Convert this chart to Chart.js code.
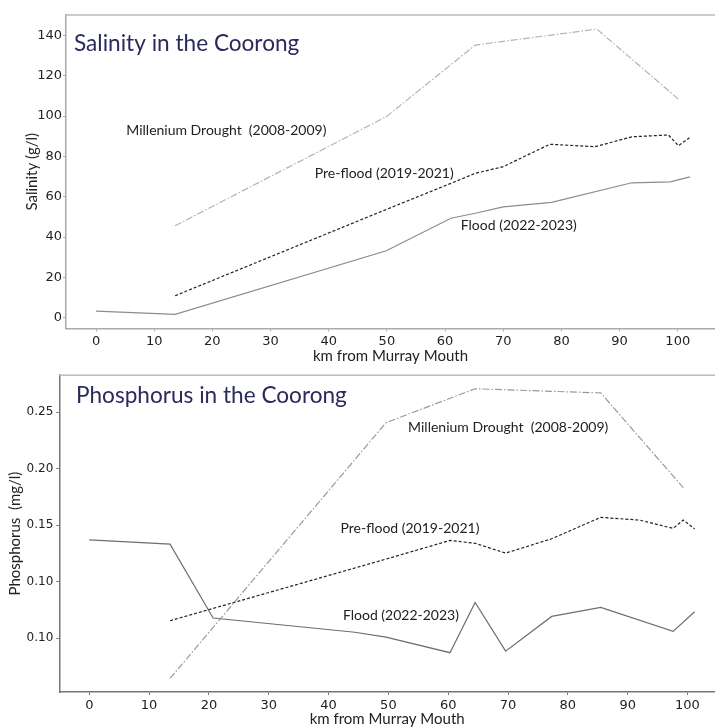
<!DOCTYPE html>
<html>
<head>
<meta charset="utf-8">
<script src="https://cdn.jsdelivr.net/npm/chart.js@4.4.1/dist/chart.umd.min.js"></script>
<style>
  body { margin: 0; background: #fff; }
  .box { position: absolute; left: 0; width: 715px; }
  #salBox { top: 0; height: 365px; }
  #phBox { top: 365px; height: 363px; }
</style>
</head>
<body>
<div class="box" id="salBox"><canvas id="salChart"></canvas></div>
<div class="box" id="phBox"><canvas id="phChart"></canvas></div>
<script>
    // Salinity (g/l) by km from Murray Mouth
    const salDroughtKm = [13.6, 49.9, 65.2, 86.1, 100.1];
    const salDrought = [45.6, 99.7, 135.2, 143.1, 108.4];
    const salPreKm = [13.6, 49.9, 61, 65.2, 70, 78, 85.8, 92.1, 98.4, 100.1, 102];
    const salPre = [10.9, 53.7, 66.6, 71.6, 74.9, 86.0, 84.8, 89.7, 90.6, 85.3, 89.2];
    const salFloodKm = [0, 13.6, 49.9, 61, 65.2, 70, 78.3, 92.1, 98.7, 102.1];
    const salFlood = [3.3, 1.7, 33.2, 49.3, 51.8, 55.0, 57.2, 66.9, 67.4, 69.8];

    // Phosphorus (mg/l) by km from Murray Mouth
    const phDroughtKm = [13.5, 49.6, 64.5, 85.5, 99.3];
    const phDrought = [0.0144, 0.2407, 0.2707, 0.267, 0.1832];
    const phPreKm = [13.5, 49.6, 60.3, 64.5, 69.6, 77.3, 85.5, 92, 97.6, 99.3, 101.2];
    const phPre = [0.0655, 0.12, 0.1365, 0.134, 0.1253, 0.138, 0.1569, 0.1545, 0.1472, 0.1546, 0.1467];
    const phFloodKm = [0, 13.5, 20.7, 44.4, 49.6, 60.3, 64.5, 69.6, 77.3, 85.5, 97.6, 101.2];
    const phFlood = [0.137, 0.1332, 0.0679, 0.0553, 0.0509, 0.0372, 0.0816, 0.0386, 0.0693, 0.0772, 0.0561, 0.0734];

    // tick labels of the phosphorus axis (as printed, the lowest one reads 0.10 too)
    const phTickValues = [0.05, 0.10, 0.15, 0.20, 0.25];
    const phTickLabels = ['0.10', '0.10', '0.15', '0.20', '0.25'];

    // series labels written next to the lines [text, km, value]
    const salNotes = [
        ['Millenium Drought  (2008-2009)', 5.2, 92.6],
        ['Pre-flood (2019-2021)', 37.6, 71.7],
        ['Flood (2022-2023)', 62.7, 45.5]
    ];
    const phNotes = [
        ['Millenium Drought  (2008-2009)', 53.3, 0.2363],
        ['Pre-flood (2019-2021)', 42.0, 0.147],
        ['Flood (2022-2023)', 42.4, 0.0699]
    ];

    const textFont = 'Lato, "Noto Sans", sans-serif';
    const tickFont = '"DejaVu Sans", sans-serif';

    function pts(xs, ys) {
        return xs.map((x, i) => ({ x: x, y: ys[i] }));
    }

    function line(data, color, dash) {
        return {
            data: data,
            borderColor: color,
            borderWidth: 1.2,
            borderDash: dash,
            pointRadius: 0,
            tension: 0,
            fill: false
        };
    }

    // frame top line, title and the text labels on the lines
    function decorPlugin(title, notes, titleX, titleY) {
        return {
            id: 'decor',
            afterDraw(chart) {
                const ctx = chart.ctx;
                const a = chart.chartArea;
                ctx.save();
                ctx.strokeStyle = '#bbb';
                ctx.lineWidth = 1.5;
                ctx.beginPath();
                ctx.moveTo(a.left, a.top);
                ctx.lineTo(a.right, a.top);
                ctx.stroke();

                ctx.fillStyle = '#2b2a5c';
                ctx.font = '22.6px ' + textFont;
                ctx.textBaseline = 'middle';
                ctx.fillText(title, titleX, titleY);

                ctx.fillStyle = '#222';
                ctx.font = '14px ' + textFont;
                notes.forEach(n => {
                    const x = chart.scales.x.getPixelForValue(n[1]);
                    const y = chart.scales.y.getPixelForValue(n[2]);
                    ctx.fillText(n[0], x, y);
                });
                ctx.restore();
            }
        };
    }

    function makeChart(id, opt) {
        return new Chart(document.getElementById(id).getContext('2d'), {
            type: 'line',
            data: { datasets: opt.datasets },
            options: {
                responsive: true,
                maintainAspectRatio: false,
                animation: false,
                layout: { padding: { top: opt.top, right: 0, left: 0, bottom: 0 } },
                plugins: { legend: { display: false }, tooltip: { enabled: false } },
                scales: {
                    x: {
                        type: 'linear',
                        min: opt.xMin,
                        max: opt.xMax,
                        afterFit: s => { s.height = opt.xHeight; },
                        ticks: {
                            stepSize: 10,
                            includeBounds: false,
                            maxRotation: 0,
                            padding: opt.xPad,
                            color: '#222',
                            font: { family: tickFont, size: 13 }
                        },
                        grid: { drawOnChartArea: false, tickLength: 3, color: opt.axisColor },
                        border: { color: opt.axisColor, width: 1.5 },
                        title: {
                            display: true,
                            text: 'km from Murray Mouth',
                            color: '#222',
                            padding: { top: 0, bottom: opt.xTitlePad },
                            font: { family: textFont, size: 15 }
                        }
                    },
                    y: {
                        min: opt.yMin,
                        max: opt.yMax,
                        afterFit: s => { s.width = opt.yWidth; },
                        afterBuildTicks: opt.yTicks ? (s => { s.ticks = opt.yTicks.map(v => ({ value: v })); }) : undefined,
                        ticks: {
                            stepSize: opt.yStep,
                            includeBounds: false,
                            padding: opt.yPad,
                            color: '#222',
                            font: { family: tickFont, size: opt.yFontSize },
                            callback: opt.yLabel
                        },
                        grid: { drawOnChartArea: false, tickLength: 3, color: opt.axisColor },
                        border: { color: opt.axisColor, width: 1.5 },
                        title: {
                            display: true,
                            text: opt.yTitle,
                            color: '#222',
                            padding: { top: opt.yTitlePad, bottom: 0 },
                            font: { family: textFont, size: 15 }
                        }
                    }
                }
            },
            plugins: [decorPlugin(opt.title, opt.notes, opt.titleX, opt.titleY)]
        });
    }

    makeChart('salChart', {
        datasets: [
            line(pts(salDroughtKm, salDrought), '#b3b3b3', [7, 2, 1.5, 2]),
            line(pts(salPreKm, salPre), '#222', [3, 2]),
            line(pts(salFloodKm, salFlood), '#8c8c8c', [])
        ],
        top: 15, xHeight: 36.5, yWidth: 66,
        xMin: -5.16, xMax: 106.4, yMin: -5.35, yMax: 150.1, yStep: 20,
        xPad: 2, yPad: 1, yFontSize: 13, xTitlePad: 0, yTitlePad: 23,
        axisColor: '#aaa',
        yTitle: 'Salinity (g/l)',
        title: 'Salinity in the Coorong', titleX: 74, titleY: 44,
        notes: salNotes
    });

    makeChart('phChart', {
        datasets: [
            line(pts(phDroughtKm, phDrought), '#9a9a9a', [7, 2, 1.5, 2]),
            line(pts(phPreKm, phPre), '#222', [3, 2]),
            line(pts(phFloodKm, phFlood), '#6e6e6e', [])
        ],
        top: 7, xHeight: 36, yWidth: 59.3,
        xMin: -5.01, xMax: 104.6, yMin: 0.00243, yMax: 0.2827,
        yTicks: phTickValues,
        yLabel: (v, i) => phTickLabels[i],
        xPad: 3, yPad: 3, yFontSize: 12, xTitlePad: 0, yTitlePad: 6,
        axisColor: '#777',
        yTitle: 'Phosphorus  (mg/l)',
        title: 'Phosphorus in the Coorong', titleX: 76, titleY: 31,
        notes: phNotes
    });
</script>
</body>
</html>
